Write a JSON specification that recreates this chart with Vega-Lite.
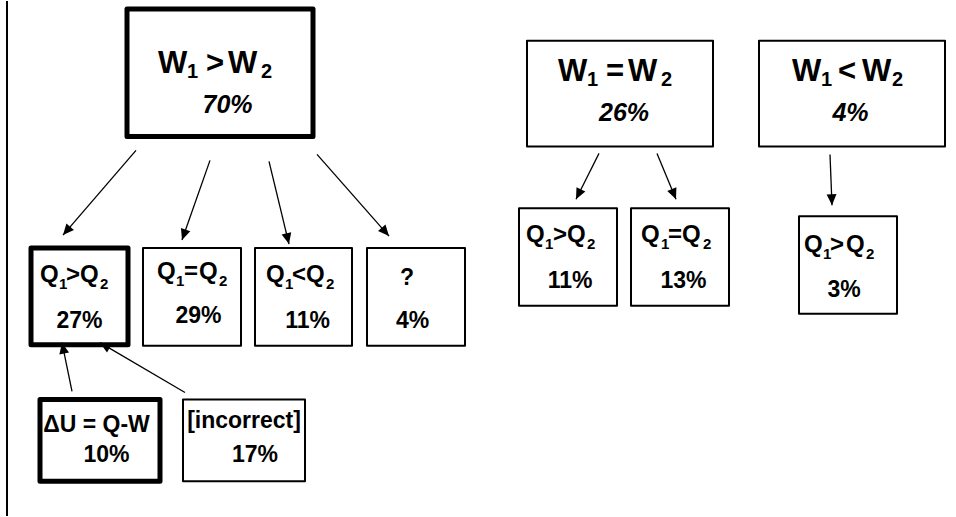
{
  "$schema": "https://vega.github.io/schema/vega-lite/v6.json",
  "width": 956,
  "height": 517,
  "padding": 0,
  "autosize": {"type": "fit", "contains": "padding"},
  "background": "white",
  "config": {"view": {"stroke": null}, "text": {"font": "Liberation Sans", "fontWeight": "bold"}},
  "datasets": {
    "boxes": [
      {"node": "W1>W2", "x": 127, "x2": 313, "y": 8, "y2": 136, "highlight": "yes"},
      {"node": "W1=W2", "x": 527, "x2": 713, "y": 40, "y2": 146, "highlight": "no"},
      {"node": "W1<W2", "x": 759, "x2": 945, "y": 40, "y2": 146, "highlight": "no"},
      {"node": "A:Q1>Q2", "x": 31, "x2": 128, "y": 248, "y2": 345, "highlight": "yes"},
      {"node": "A:Q1=Q2", "x": 143, "x2": 241, "y": 248, "y2": 346, "highlight": "no"},
      {"node": "A:Q1<Q2", "x": 255, "x2": 352, "y": 248, "y2": 346, "highlight": "no"},
      {"node": "A:?", "x": 367, "x2": 465, "y": 248, "y2": 346, "highlight": "no"},
      {"node": "A:dU", "x": 40, "x2": 160, "y": 400, "y2": 482, "highlight": "yes"},
      {"node": "A:incorrect", "x": 183, "x2": 305, "y": 400, "y2": 482, "highlight": "no"},
      {"node": "B:Q1>Q2", "x": 519, "x2": 617, "y": 208, "y2": 306, "highlight": "no"},
      {"node": "B:Q1=Q2", "x": 631, "x2": 729, "y": 208, "y2": 306, "highlight": "no"},
      {"node": "C:Q1>Q2", "x": 799, "x2": 897, "y": 216, "y2": 314, "highlight": "no"}
    ],
    "arrows": [
      {"from": "W1>W2", "to": "A:Q1>Q2", "x": 136, "y": 150, "x2": 63, "y2": 235},
      {"from": "W1>W2", "to": "A:Q1=Q2", "x": 210, "y": 160, "x2": 182, "y2": 240},
      {"from": "W1>W2", "to": "A:Q1<Q2", "x": 269, "y": 161, "x2": 289, "y2": 244},
      {"from": "W1>W2", "to": "A:?", "x": 317, "y": 154, "x2": 389, "y2": 236},
      {"from": "A:dU", "to": "A:Q1>Q2", "x": 72, "y": 392, "x2": 62, "y2": 343},
      {"from": "A:incorrect", "to": "A:Q1>Q2", "x": 185, "y": 393, "x2": 100, "y2": 343},
      {"from": "W1=W2", "to": "B:Q1>Q2", "x": 599, "y": 153, "x2": 576, "y2": 199},
      {"from": "W1=W2", "to": "B:Q1=Q2", "x": 657, "y": 153, "x2": 676, "y2": 199},
      {"from": "W1<W2", "to": "C:Q1>Q2", "x": 830, "y": 154, "x2": 832, "y2": 205}
    ],
    "pieces": [
      {"node": "W1>W2", "text": "W", "x": 158, "y": 72, "role": "head"},
      {"node": "W1>W2", "text": "1", "x": 187, "y": 77, "role": "headSub"},
      {"node": "W1>W2", "text": ">", "x": 206, "y": 72, "role": "head"},
      {"node": "W1>W2", "text": "W", "x": 228, "y": 72, "role": "head"},
      {"node": "W1>W2", "text": "2", "x": 261, "y": 77, "role": "headSub"},
      {"node": "W1=W2", "text": "W", "x": 558, "y": 80, "role": "head"},
      {"node": "W1=W2", "text": "1", "x": 587, "y": 85, "role": "headSub"},
      {"node": "W1=W2", "text": "=", "x": 606, "y": 80, "role": "head"},
      {"node": "W1=W2", "text": "W", "x": 628, "y": 80, "role": "head"},
      {"node": "W1=W2", "text": "2", "x": 661, "y": 85, "role": "headSub"},
      {"node": "W1<W2", "text": "W", "x": 792, "y": 80, "role": "head"},
      {"node": "W1<W2", "text": "1", "x": 821, "y": 85, "role": "headSub"},
      {"node": "W1<W2", "text": "<", "x": 838, "y": 80, "role": "head"},
      {"node": "W1<W2", "text": "W", "x": 862, "y": 80, "role": "head"},
      {"node": "W1<W2", "text": "2", "x": 892, "y": 85, "role": "headSub"},
      {"node": "A:Q1>Q2", "text": "Q", "x": 40, "y": 282, "role": "label"},
      {"node": "A:Q1>Q2", "text": "1", "x": 59, "y": 289, "role": "labelSub"},
      {"node": "A:Q1>Q2", "text": ">", "x": 66, "y": 282, "role": "label"},
      {"node": "A:Q1>Q2", "text": "Q", "x": 80, "y": 282, "role": "label"},
      {"node": "A:Q1>Q2", "text": "2", "x": 100, "y": 289, "role": "labelSub"},
      {"node": "A:Q1=Q2", "text": "Q", "x": 157, "y": 279, "role": "label"},
      {"node": "A:Q1=Q2", "text": "1", "x": 176, "y": 286, "role": "labelSub"},
      {"node": "A:Q1=Q2", "text": "=", "x": 184, "y": 279, "role": "label"},
      {"node": "A:Q1=Q2", "text": "Q", "x": 199, "y": 279, "role": "label"},
      {"node": "A:Q1=Q2", "text": "2", "x": 219, "y": 286, "role": "labelSub"},
      {"node": "A:Q1<Q2", "text": "Q", "x": 266, "y": 282, "role": "label"},
      {"node": "A:Q1<Q2", "text": "1", "x": 285, "y": 289, "role": "labelSub"},
      {"node": "A:Q1<Q2", "text": "<", "x": 292, "y": 282, "role": "label"},
      {"node": "A:Q1<Q2", "text": "Q", "x": 306, "y": 282, "role": "label"},
      {"node": "A:Q1<Q2", "text": "2", "x": 326, "y": 289, "role": "labelSub"},
      {"node": "B:Q1>Q2", "text": "Q", "x": 526, "y": 242, "role": "label"},
      {"node": "B:Q1>Q2", "text": "1", "x": 545, "y": 249, "role": "labelSub"},
      {"node": "B:Q1>Q2", "text": ">", "x": 553, "y": 242, "role": "label"},
      {"node": "B:Q1>Q2", "text": "Q", "x": 567, "y": 242, "role": "label"},
      {"node": "B:Q1>Q2", "text": "2", "x": 587, "y": 249, "role": "labelSub"},
      {"node": "B:Q1=Q2", "text": "Q", "x": 641, "y": 242, "role": "label"},
      {"node": "B:Q1=Q2", "text": "1", "x": 661, "y": 249, "role": "labelSub"},
      {"node": "B:Q1=Q2", "text": "=", "x": 668, "y": 242, "role": "label"},
      {"node": "B:Q1=Q2", "text": "Q", "x": 682, "y": 242, "role": "label"},
      {"node": "B:Q1=Q2", "text": "2", "x": 703, "y": 249, "role": "labelSub"},
      {"node": "C:Q1>Q2", "text": "Q", "x": 804, "y": 252, "role": "label"},
      {"node": "C:Q1>Q2", "text": "1", "x": 823, "y": 259, "role": "labelSub"},
      {"node": "C:Q1>Q2", "text": ">", "x": 830, "y": 252, "role": "label"},
      {"node": "C:Q1>Q2", "text": "Q", "x": 846, "y": 252, "role": "label"},
      {"node": "C:Q1>Q2", "text": "2", "x": 866, "y": 259, "role": "labelSub"},
      {"node": "W1>W2", "text": "70%", "x": 227.5, "y": 112, "role": "headPct"},
      {"node": "W1=W2", "text": "26%", "x": 624, "y": 120, "role": "headPct"},
      {"node": "W1<W2", "text": "4%", "x": 850.5, "y": 120, "role": "headPct"},
      {"node": "A:Q1>Q2", "text": "27%", "x": 79.5, "y": 328, "role": "pct"},
      {"node": "A:Q1=Q2", "text": "29%", "x": 198.5, "y": 323, "role": "pct"},
      {"node": "A:Q1<Q2", "text": "11%", "x": 307.5, "y": 328, "role": "pct"},
      {"node": "A:?", "text": "4%", "x": 412.5, "y": 328, "role": "pct"},
      {"node": "B:Q1>Q2", "text": "11%", "x": 570, "y": 288, "role": "pct"},
      {"node": "B:Q1=Q2", "text": "13%", "x": 683.5, "y": 288, "role": "pct"},
      {"node": "C:Q1>Q2", "text": "3%", "x": 844, "y": 297, "role": "pct"},
      {"node": "A:dU", "text": "10%", "x": 106.5, "y": 463, "role": "pct"},
      {"node": "A:incorrect", "text": "17%", "x": 255, "y": 463, "role": "pct"},
      {"node": "A:?", "text": "?", "x": 407, "y": 285, "role": "labelWhole"},
      {"node": "A:dU", "text": "ΔU = Q-W", "x": 96.5, "y": 433, "role": "labelWhole"},
      {"node": "A:incorrect", "text": "[incorrect]", "x": 244, "y": 429, "role": "labelWhole"}
    ],
    "divider": [
      {"x": 7, "y": 0, "y2": 517}
    ]
  },
  "layer": [
    {
      "data": {"name": "divider"},
      "mark": {"type": "rule", "stroke": "black", "strokeWidth": 2},
      "encoding": {
        "x": {"field": "x", "type": "quantitative", "scale": {"domain": [0, 956], "nice": false, "zero": false}, "axis": null},
        "y": {"field": "y", "type": "quantitative", "scale": {"domain": [0, 517], "nice": false, "zero": false, "reverse": true}, "axis": null},
        "y2": {"field": "y2"}
      }
    },
    {
      "data": {"name": "boxes"},
      "mark": {"type": "rect", "fill": "transparent", "stroke": "black", "strokeJoin": "round"},
      "encoding": {
        "x": {"field": "x", "type": "quantitative", "axis": null},
        "x2": {"field": "x2"},
        "y": {"field": "y", "type": "quantitative", "axis": null},
        "y2": {"field": "y2"},
        "strokeWidth": {"field": "highlight", "type": "nominal", "scale": {"type": "ordinal", "domain": ["no", "yes"], "range": [2, 5]}, "legend": null}
      }
    },
    {
      "data": {"name": "arrows"},
      "mark": {"type": "rule", "stroke": "black", "strokeWidth": 1.3},
      "encoding": {
        "x": {"field": "x", "type": "quantitative", "axis": null},
        "x2": {"field": "x2"},
        "y": {"field": "y", "type": "quantitative", "axis": null},
        "y2": {"field": "y2"}
      }
    },
    {
      "data": {"name": "arrows"},
      "transform": [
        {"calculate": "atan2(-(datum.x2 - datum.x), datum.y2 - datum.y) * 180 / PI", "as": "heading"}
      ],
      "mark": {"type": "point", "shape": "M0,0L-0.45,-1L0.45,-1Z", "filled": true, "fill": "black", "stroke": null, "size": 484, "opacity": 1},
      "encoding": {
        "x": {"field": "x2", "type": "quantitative", "axis": null},
        "y": {"field": "y2", "type": "quantitative", "axis": null},
        "angle": {"field": "heading", "type": "quantitative", "scale": null}
      }
    },
    {
      "data": {"name": "pieces"},
      "transform": [{"filter": "indexof(['head','headSub','label','labelSub'], datum.role) >= 0"}],
      "mark": {"type": "text", "align": "left", "baseline": "alphabetic", "color": "black"},
      "encoding": {
        "x": {"field": "x", "type": "quantitative", "axis": null},
        "y": {"field": "y", "type": "quantitative", "axis": null},
        "text": {"field": "text"},
        "size": {"field": "role", "type": "nominal", "scale": {"type": "ordinal", "domain": ["head", "headSub", "headPct", "label", "labelSub", "labelWhole", "pct"], "range": [31, 20, 25, 24, 15, 23, 23]}, "legend": null}
      }
    },
    {
      "data": {"name": "pieces"},
      "transform": [{"filter": "indexof(['pct','labelWhole'], datum.role) >= 0"}],
      "mark": {"type": "text", "align": "center", "baseline": "alphabetic", "color": "black"},
      "encoding": {
        "x": {"field": "x", "type": "quantitative", "axis": null},
        "y": {"field": "y", "type": "quantitative", "axis": null},
        "text": {"field": "text"},
        "size": {"field": "role", "type": "nominal", "scale": {"type": "ordinal", "domain": ["head", "headSub", "headPct", "label", "labelSub", "labelWhole", "pct"], "range": [31, 20, 25, 24, 15, 23, 23]}, "legend": null}
      }
    },
    {
      "data": {"name": "pieces"},
      "transform": [{"filter": "datum.role === 'headPct'"}],
      "mark": {"type": "text", "align": "center", "baseline": "alphabetic", "color": "black", "fontStyle": "italic"},
      "encoding": {
        "x": {"field": "x", "type": "quantitative", "axis": null},
        "y": {"field": "y", "type": "quantitative", "axis": null},
        "text": {"field": "text"},
        "size": {"field": "role", "type": "nominal", "scale": {"type": "ordinal", "domain": ["head", "headSub", "headPct", "label", "labelSub", "labelWhole", "pct"], "range": [31, 20, 25, 24, 15, 23, 23]}, "legend": null}
      }
    }
  ]
}
